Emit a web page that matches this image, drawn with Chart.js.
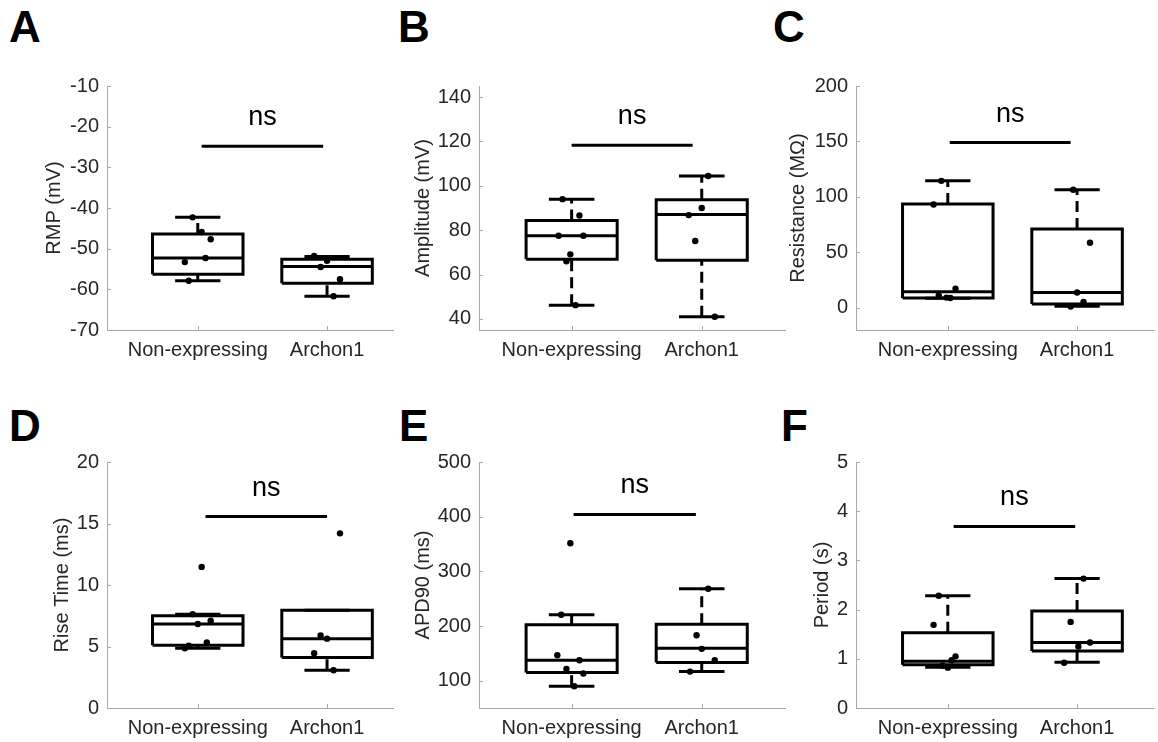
<!DOCTYPE html>
<html>
<head>
<meta charset="utf-8">
<script src="https://cdn.jsdelivr.net/npm/chart.js@4.4.1/dist/chart.umd.min.js"></script>
<style>
  html, body { margin: 0; padding: 0; background: #fff; }
  body { width: 1158px; height: 742px; position: relative; overflow: hidden; }
  canvas { position: absolute; }
  .tag { position: absolute; font: bold 44px "Liberation Sans", Arial, sans-serif; line-height: 1; color: #000; }
</style>
</head>
<body>
<div class="tag" style="left:9px;top:5px">A</div>
<div class="tag" style="left:398px;top:5px">B</div>
<div class="tag" style="left:773px;top:5px">C</div>
<div class="tag" style="left:9px;top:404px">D</div>
<div class="tag" style="left:399px;top:404px">E</div>
<div class="tag" style="left:781px;top:404px">F</div>
<canvas id="pA"></canvas>
<canvas id="pB"></canvas>
<canvas id="pC"></canvas>
<canvas id="pD"></canvas>
<canvas id="pE"></canvas>
<canvas id="pF"></canvas>
<script>
// groups on the x axis
const groups = ['Non-expressing', 'Archon1'];

// box stats per group: [lower whisker, Q1, median, Q3, upper whisker]
// A - resting membrane potential
const rmpNonBox = [-57.9, -56.3, -52.3, -46.4, -42.3];
const rmpArcBox = [-61.7, -58.5, -54.4, -52.6, -51.9];
const rmpNonPts = [-42.3, -45.9, -47.7, -53.3, -52.3, -57.9];
const rmpNonJit = [-0.04, 0.03, 0.10, -0.10, 0.06, -0.07];
const rmpArcPts = [-51.8, -53.0, -54.5, -57.5, -61.7];
const rmpArcJit = [-0.10, 0.00, -0.05, 0.10, 0.05];
const rmpTicks = [-70, -60, -50, -40, -30, -20, -10];
const rmpRange = [-70, -10];
const rmpSig = [-24.8, 1.03, 1.97];

// B - amplitude
const ampNonBox = [46.2, 66.9, 77.5, 84.4, 94.0];
const ampArcBox = [41.0, 66.5, 87.1, 93.7, 104.4];
const ampNonPts = [94.0, 86.6, 77.5, 77.5, 69.1, 66.0, 46.2];
const ampNonJit = [-0.07, 0.06, -0.10, 0.09, -0.01, -0.04, 0.03];
const ampArcPts = [104.4, 90.0, 86.8, 75.1, 41.0];
const ampArcJit = [0.05, 0.00, -0.10, -0.05, 0.10];
const ampTicks = [40, 60, 80, 100, 120, 140];
const ampRange = [35, 145];
const ampSig = [118.3, 1.00, 1.93];

// C - resistance
const resNonBox = [8.7, 8.9, 14.4, 93.5, 114.5];
const resArcBox = [1.4, 3.5, 13.8, 71.1, 106.5];
const resNonPts = [114.5, 93.2, 17.3, 11.2, 9.2, 8.9];
const resNonJit = [-0.05, -0.11, 0.06, -0.07, -0.01, 0.02];
const resArcPts = [106.5, 58.7, 13.8, 5.2, 1.2];
const resArcJit = [-0.03, 0.10, 0.00, 0.05, -0.05];
const resTicks = [0, 50, 100, 150, 200];
const resRange = [-20, 200];
const resSig = [149, 1.015, 1.95];

// D - rise time
const riseNonBox = [4.85, 5.11, 6.83, 7.5, 7.63];
const riseArcBox = [3.07, 4.1, 5.64, 7.95, 7.95];
const riseNonPts = [11.47, 7.63, 7.1, 6.83, 5.32, 5.06, 4.85];
const riseNonJit = [0.03, -0.04, 0.10, 0.00, 0.07, -0.07, -0.10];
const riseArcPts = [14.2, 5.9, 5.64, 4.45, 3.07];
const riseArcJit = [0.10, -0.05, 0.00, -0.10, 0.05];
const riseTicks = [0, 5, 10, 15, 20];
const riseRange = [0, 20];
const riseSig = [15.56, 1.06, 2.0];

// E - APD90
const apdNonBox = [89.9, 114.9, 137.4, 202.2, 220.6];
const apdArcBox = [116.6, 133.3, 159.4, 203.4, 268.2];
const apdNonPts = [351.4, 220.6, 146.4, 137.4, 121.4, 113.1, 89.9];
const apdNonJit = [-0.01, -0.08, -0.11, 0.06, -0.04, 0.09, 0.02];
const apdArcPts = [268.2, 183.2, 158.2, 137.4, 116.6];
const apdArcJit = [0.05, -0.04, 0.00, 0.10, -0.09];
const apdTicks = [100, 200, 300, 400, 500];
const apdRange = [50, 500];
const apdSig = [404, 1.015, 1.955];

// F - period
const perNonBox = [0.83, 0.88, 0.95, 1.53, 2.28];
const perArcBox = [0.93, 1.16, 1.33, 1.97, 2.63];
const perNonPts = [2.28, 1.69, 1.05, 0.97, 0.86, 0.82];
const perNonJit = [-0.07, -0.11, 0.06, 0.03, -0.04, 0.00];
const perArcPts = [2.63, 1.75, 1.33, 1.25, 0.92];
const perArcJit = [0.05, -0.05, 0.10, 0.01, -0.10];
const perTicks = [0, 1, 2, 3, 4, 5];
const perRange = [0, 5];
const perSig = [3.69, 1.045, 1.985];

// ---- layout (pixels) ----
const ROWS = [
  { top: 66, padTop: 14, plotH: 250, xH: 40 },
  { top: 442, padTop: 14, plotH: 252, xH: 34 }
];
const COLS = [
  { plotLeft: 107, plotRight: 397, xMin: 0.298, xMax: 2.51 },
  { plotLeft: 479, plotRight: 789, xMin: 0.288, xMax: 2.64 },
  { plotLeft: 856, plotRight: 1158, xMin: 0.29, xMax: 2.595 }
];
const BOX_HALF = 0.35, CAP_HALF = 0.175;
const AXIS_GREY = '#a8a8a8';
const FONT = '"Liberation Sans", Arial, sans-serif';

Chart.defaults.font.family = FONT;
Chart.defaults.color = '#262626';

const panels = [
  { id: 'pA', row: 0, col: 0, left: 40, title: 'RMP (mV)', box: [rmpNonBox, rmpArcBox], pts: [rmpNonPts, rmpArcPts], jit: [rmpNonJit, rmpArcJit], ticks: rmpTicks, range: rmpRange, sig: rmpSig },
  { id: 'pB', row: 0, col: 1, left: 409, title: 'Amplitude (mV)', box: [ampNonBox, ampArcBox], pts: [ampNonPts, ampArcPts], jit: [ampNonJit, ampArcJit], ticks: ampTicks, range: ampRange, sig: ampSig },
  { id: 'pC', row: 0, col: 2, left: 784, title: 'Resistance (MΩ)', box: [resNonBox, resArcBox], pts: [resNonPts, resArcPts], jit: [resNonJit, resArcJit], ticks: resTicks, range: resRange, sig: resSig },
  { id: 'pD', row: 1, col: 0, left: 48, title: 'Rise Time (ms)', box: [riseNonBox, riseArcBox], pts: [riseNonPts, riseArcPts], jit: [riseNonJit, riseArcJit], ticks: riseTicks, range: riseRange, sig: riseSig },
  { id: 'pE', row: 1, col: 1, left: 409, title: 'APD90 (ms)', box: [apdNonBox, apdArcBox], pts: [apdNonPts, apdArcPts], jit: [apdNonJit, apdArcJit], ticks: apdTicks, range: apdRange, sig: apdSig },
  { id: 'pF', row: 1, col: 2, left: 808, title: 'Period (s)', box: [perNonBox, perArcBox], pts: [perNonPts, perArcPts], jit: [perNonJit, perArcJit], ticks: perTicks, range: perRange, sig: perSig }
];

function seg(points, dashed) {
  return {
    type: 'scatter', data: points, showLine: true, pointRadius: 0,
    borderColor: '#000', borderWidth: 3, borderDash: dashed ? [11, 6] : [],
    fill: false, tension: 0
  };
}

function boxDatasets(stats, g, pts, jit) {
  const c = g + 1;
  const [lo, q1, med, q3, hi] = stats;
  return [
    seg([{ x: c, y: q3 }, { x: c, y: hi }], true),
    seg([{ x: c, y: lo }, { x: c, y: q1 }], true),
    seg([{ x: c - CAP_HALF, y: hi }, { x: c + CAP_HALF, y: hi }]),
    seg([{ x: c - CAP_HALF, y: lo }, { x: c + CAP_HALF, y: lo }]),
    seg([{ x: c - BOX_HALF, y: q1 }, { x: c + BOX_HALF, y: q1 }, { x: c + BOX_HALF, y: q3 },
         { x: c - BOX_HALF, y: q3 }, { x: c - BOX_HALF, y: q1 }]),
    seg([{ x: c - BOX_HALF, y: med }, { x: c + BOX_HALF, y: med }]),
    {
      type: 'scatter', data: pts.map((v, i) => ({ x: c + jit[i], y: v })),
      pointRadius: 3.2, pointBackgroundColor: '#000', pointBorderWidth: 0
    }
  ];
}

// "ns" label above the comparison bar, plus small inward ticks like MATLAB axes
const extras = {
  id: 'extras',
  afterDatasetsDraw(chart, args, opts) {
    const { ctx, scales: { x, y }, chartArea } = chart;
    ctx.save();
    ctx.strokeStyle = AXIS_GREY;
    ctx.lineWidth = 1;
    y.ticks.forEach(t => {
      const py = Math.round(y.getPixelForValue(t.value)) + 0.5;
      ctx.beginPath(); ctx.moveTo(chartArea.left, py); ctx.lineTo(chartArea.left + 4, py); ctx.stroke();
    });
    x.ticks.forEach(t => {
      const px = Math.round(x.getPixelForValue(t.value)) + 0.5;
      ctx.beginPath(); ctx.moveTo(px, chartArea.bottom); ctx.lineTo(px, chartArea.bottom - 4); ctx.stroke();
    });
    const [level, from, to] = opts.sig;
    const mx = x.getPixelForValue((from + to) / 2);
    const my = y.getPixelForValue(level);
    ctx.font = '27px ' + FONT;
    ctx.fillStyle = '#000';
    ctx.textAlign = 'center';
    ctx.textBaseline = 'alphabetic';
    ctx.fillText('ns', mx, my - 21);
    ctx.restore();
  }
};

panels.forEach(p => {
  const row = ROWS[p.row], col = COLS[p.col];
  const canvas = document.getElementById(p.id);
  const w = col.plotRight - p.left;
  const h = row.padTop + row.plotH + row.xH;
  canvas.width = w; canvas.height = h;
  canvas.style.left = p.left + 'px'; canvas.style.top = row.top + 'px';
  canvas.style.width = w + 'px'; canvas.style.height = h + 'px';

  const datasets = [];
  p.box.forEach((stats, g) => datasets.push(...boxDatasets(stats, g, p.pts[g], p.jit[g])));
  const [level, from, to] = p.sig;
  datasets.push(seg([{ x: from, y: level }, { x: to, y: level }]));

  new Chart(canvas.getContext('2d'), {
    type: 'scatter',
    data: { datasets },
    options: {
      responsive: false,
      animation: false,
      devicePixelRatio: 1,
      events: [],
      layout: { padding: { top: row.padTop, left: 0, right: 0, bottom: 0 } },
      plugins: { legend: { display: false }, tooltip: { enabled: false }, extras: { sig: p.sig } },
      scales: {
        x: {
          type: 'linear', min: col.xMin, max: col.xMax,
          afterBuildTicks: axis => { axis.ticks = groups.map((g, i) => ({ value: i + 1 })); },
          afterFit: axis => { axis.height = row.xH; },
          grid: { display: false, drawTicks: false },
          border: { display: true, color: AXIS_GREY, width: 1 },
          ticks: { padding: 8, font: { size: 20 }, maxRotation: 0, autoSkip: false,
                   callback: v => groups[Math.round(v) - 1] }
        },
        y: {
          min: p.range[0], max: p.range[1],
          afterBuildTicks: axis => { axis.ticks = p.ticks.map(v => ({ value: v })); },
          afterFit: axis => { axis.width = col.plotLeft - p.left; },
          grid: { display: false, drawTicks: false },
          border: { display: true, color: AXIS_GREY, width: 1 },
          ticks: { padding: 8, font: { size: 20 } },
          title: { display: true, text: p.title, font: { size: 20 }, padding: { top: 2, bottom: 0 } }
        }
      }
    },
    plugins: [extras]
  });
});
</script>
</body>
</html>
